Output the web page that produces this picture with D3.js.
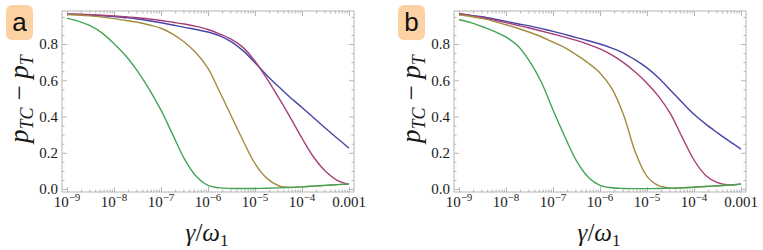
<!DOCTYPE html>
<html>
<head>
<meta charset="utf-8">
<script src="https://cdn.jsdelivr.net/npm/d3@7"></script>
<style>
  body { margin: 0; background: #fff; }
  svg { display: block; }
  text.serif, .serif text { font-family: "Liberation Serif", "Times New Roman", "DejaVu Serif", serif; }
  text.sans { font-family: "Liberation Sans", Arial, sans-serif; }
</style>
</head>
<body>
<svg width="763" height="250"></svg>
<script>
"use strict";

// exponents of gamma/omega_1 (x = 10^e)
const xExp = [-9, -8.75, -8.5, -8.25, -8, -7.75, -7.5, -7.25, -7, -6.75, -6.5, -6.25,
              -6, -5.75, -5.5, -5.25, -5, -4.75, -4.5, -4.25, -4, -3.75, -3.5, -3.25, -3];

// panel a
const aBlue    = [0.965, 0.963, 0.960, 0.956, 0.951, 0.945, 0.938, 0.928, 0.917, 0.905, 0.892, 0.880,
                  0.866, 0.845, 0.812, 0.762, 0.697, 0.628, 0.565, 0.505, 0.450, 0.392, 0.335, 0.280, 0.225];
const aMagenta = [0.966, 0.964, 0.962, 0.959, 0.955, 0.950, 0.945, 0.938, 0.930, 0.920, 0.910, 0.897,
                  0.880, 0.855, 0.825, 0.780, 0.705, 0.610, 0.505, 0.395, 0.280, 0.175, 0.098, 0.048, 0.026];
const aOlive   = [0.963, 0.960, 0.955, 0.948, 0.940, 0.930, 0.920, 0.905, 0.887, 0.855, 0.810, 0.750,
                  0.665, 0.535, 0.400, 0.265, 0.140, 0.060, 0.018, 0.008, 0.012, 0.016, 0.020, 0.024, 0.027];
const aGreen   = [0.943, 0.925, 0.900, 0.860, 0.802, 0.735, 0.650, 0.550, 0.435, 0.300, 0.165, 0.070,
                  0.020, 0.006, 0.003, 0.003, 0.003, 0.004, 0.006, 0.009, 0.012, 0.016, 0.020, 0.024, 0.027];

// panel b
const bBlue    = [0.967, 0.958, 0.950, 0.938, 0.925, 0.912, 0.900, 0.885, 0.870, 0.853, 0.835, 0.818,
                  0.800, 0.777, 0.750, 0.712, 0.668, 0.612, 0.545, 0.477, 0.412, 0.358, 0.310, 0.264, 0.220];
const bMagenta = [0.967, 0.957, 0.946, 0.932, 0.918, 0.903, 0.888, 0.872, 0.855, 0.838, 0.820, 0.798,
                  0.773, 0.740, 0.697, 0.645, 0.584, 0.510, 0.415, 0.285, 0.160, 0.075, 0.035, 0.022, 0.027];
const bOlive   = [0.961, 0.952, 0.940, 0.925, 0.906, 0.887, 0.865, 0.840, 0.810, 0.780, 0.740, 0.695,
                  0.640, 0.555, 0.410, 0.205, 0.070, 0.018, 0.005, 0.006, 0.010, 0.014, 0.018, 0.022, 0.027];
const bGreen   = [0.934, 0.918, 0.895, 0.870, 0.838, 0.790, 0.705, 0.590, 0.436, 0.290, 0.155, 0.065,
                  0.020, 0.007, 0.003, 0.002, 0.002, 0.003, 0.004, 0.007, 0.010, 0.014, 0.018, 0.022, 0.027];

const xMajorExp = [-9, -8, -7, -6, -5, -4, -3];
const yMajor = [0, 0.2, 0.4, 0.6, 0.8];
const yTickLabels = ["0.0", "0.2", "0.4", "0.6", "0.8"];
const seriesColors = ["#4646a6", "#a63e78", "#a68a40", "#44a456"];

const panels = [
  { label: "a", series: [aBlue, aMagenta, aOlive, aGreen], dx: 0 },
  { label: "b", series: [bBlue, bMagenta, bOlive, bGreen], dx: 392 }
];

const svg = d3.select("svg");
const frame = { left: 62, right: 354, top: 11, bottom: 192 };

const x = d3.scaleLog().domain([1e-9, 1e-3]).range([67, 349]);
const y = d3.scaleLinear().domain([0, 0.8]).range([189, 44]);

const xMinor = [];
xMajorExp.slice(0, -1).forEach(e => { for (let k = 2; k <= 9; k++) xMinor.push(k * Math.pow(10, e)); });
const xMajor = xMajorExp.map(e => Math.pow(10, e));
const yMinor = d3.range(0, 20).map(i => i * 0.05).filter(v => Math.abs(v / 0.2 - Math.round(v / 0.2)) > 1e-6);

const line = d3.line()
  .x(d => x(d[0]))
  .y(d => y(d[1]))
  .curve(d3.curveCatmullRom.alpha(0.5));

function drawAxis(g, axis, tx, ty) {
  const a = g.append("g").attr("transform", `translate(${tx},${ty})`).call(axis);
  a.select(".domain").remove();
  a.selectAll("line").attr("stroke", "#b4b4b4");
  a.selectAll("text").remove();
}

panels.forEach(p => {
  const g = svg.append("g").attr("transform", `translate(${p.dx},0)`);

  // badge
  g.append("rect")
    .attr("x", 6).attr("y", 5).attr("width", 27).attr("height", 35)
    .attr("rx", 6).attr("fill", "#fcd1a4");
  g.append("text")
    .attr("class", "sans")
    .attr("x", 19.5).attr("y", 31)
    .attr("text-anchor", "middle")
    .attr("font-size", 26)
    .attr("fill", "#111")
    .text(p.label);

  // ticks on all four sides, pointing inwards
  [[xMajor, 5], [xMinor, 2.5]].forEach(([vals, len]) => {
    drawAxis(g, d3.axisBottom(x).tickValues(vals).tickSize(-len), 0, frame.bottom);
    drawAxis(g, d3.axisTop(x).tickValues(vals).tickSize(-len), 0, frame.top);
  });
  [[yMajor, 5], [yMinor, 2.5]].forEach(([vals, len]) => {
    drawAxis(g, d3.axisLeft(y).tickValues(vals).tickSize(-len), frame.left, 0);
    drawAxis(g, d3.axisRight(y).tickValues(vals).tickSize(-len), frame.right, 0);
  });

  g.append("rect")
    .attr("x", frame.left).attr("y", frame.top)
    .attr("width", frame.right - frame.left).attr("height", frame.bottom - frame.top)
    .attr("fill", "none").attr("stroke", "#b4b4b4").attr("stroke-width", 1);

  // curves
  p.series.forEach((vals, i) => {
    const pts = xExp.map((e, j) => [Math.pow(10, e), vals[j]]);
    g.append("path")
      .attr("d", line(pts))
      .attr("fill", "none")
      .attr("stroke", seriesColors[i])
      .attr("stroke-width", 1.4);
  });

  // x tick labels
  const xl = g.append("g")
    .attr("class", "serif")
    .attr("font-size", 15)
    .attr("fill", "#1a1a1a");
  xMajorExp.forEach(e => {
    const t = xl.append("text")
      .attr("x", x(Math.pow(10, e)))
      .attr("y", 207)
      .attr("text-anchor", "middle");
    if (e === -3) {
      t.text("0.001");
    } else {
      t.append("tspan").text("10");
      t.append("tspan").attr("dy", -6).attr("font-size", 11).text("\u2212" + Math.abs(e));
    }
  });

  // y tick labels
  const yl = g.append("g")
    .attr("class", "serif")
    .attr("font-size", 15)
    .attr("fill", "#1a1a1a");
  yMajor.forEach((v, i) => {
    yl.append("text")
      .attr("x", 58)
      .attr("y", y(v))
      .attr("dy", "0.35em")
      .attr("text-anchor", "end")
      .text(yTickLabels[i]);
  });

  // axis labels
  const xt = g.append("text")
    .attr("class", "serif")
    .attr("x", 207).attr("y", 241)
    .attr("text-anchor", "middle")
    .attr("font-size", 25)
    .attr("fill", "#1a1a1a");
  xt.append("tspan").attr("font-style", "italic").text("\u03b3");
  xt.append("tspan").text("/");
  xt.append("tspan").attr("font-style", "italic").text("\u03c9");
  xt.append("tspan").attr("font-size", 17).attr("dy", 5).text("1");

  const yt = g.append("text")
    .attr("class", "serif")
    .attr("transform", "translate(28,99) rotate(-90)")
    .attr("text-anchor", "middle")
    .attr("font-size", 27)
    .attr("fill", "#1a1a1a");
  yt.append("tspan").attr("font-style", "italic").text("p");
  yt.append("tspan").attr("font-style", "italic").attr("font-size", 18).attr("dy", 5).text("TC");
  yt.append("tspan").attr("dy", -5).text(" \u2212 ");
  yt.append("tspan").attr("font-style", "italic").text("p");
  yt.append("tspan").attr("font-style", "italic").attr("font-size", 18).attr("dy", 5).text("T");
});
</script>
</body>
</html>
